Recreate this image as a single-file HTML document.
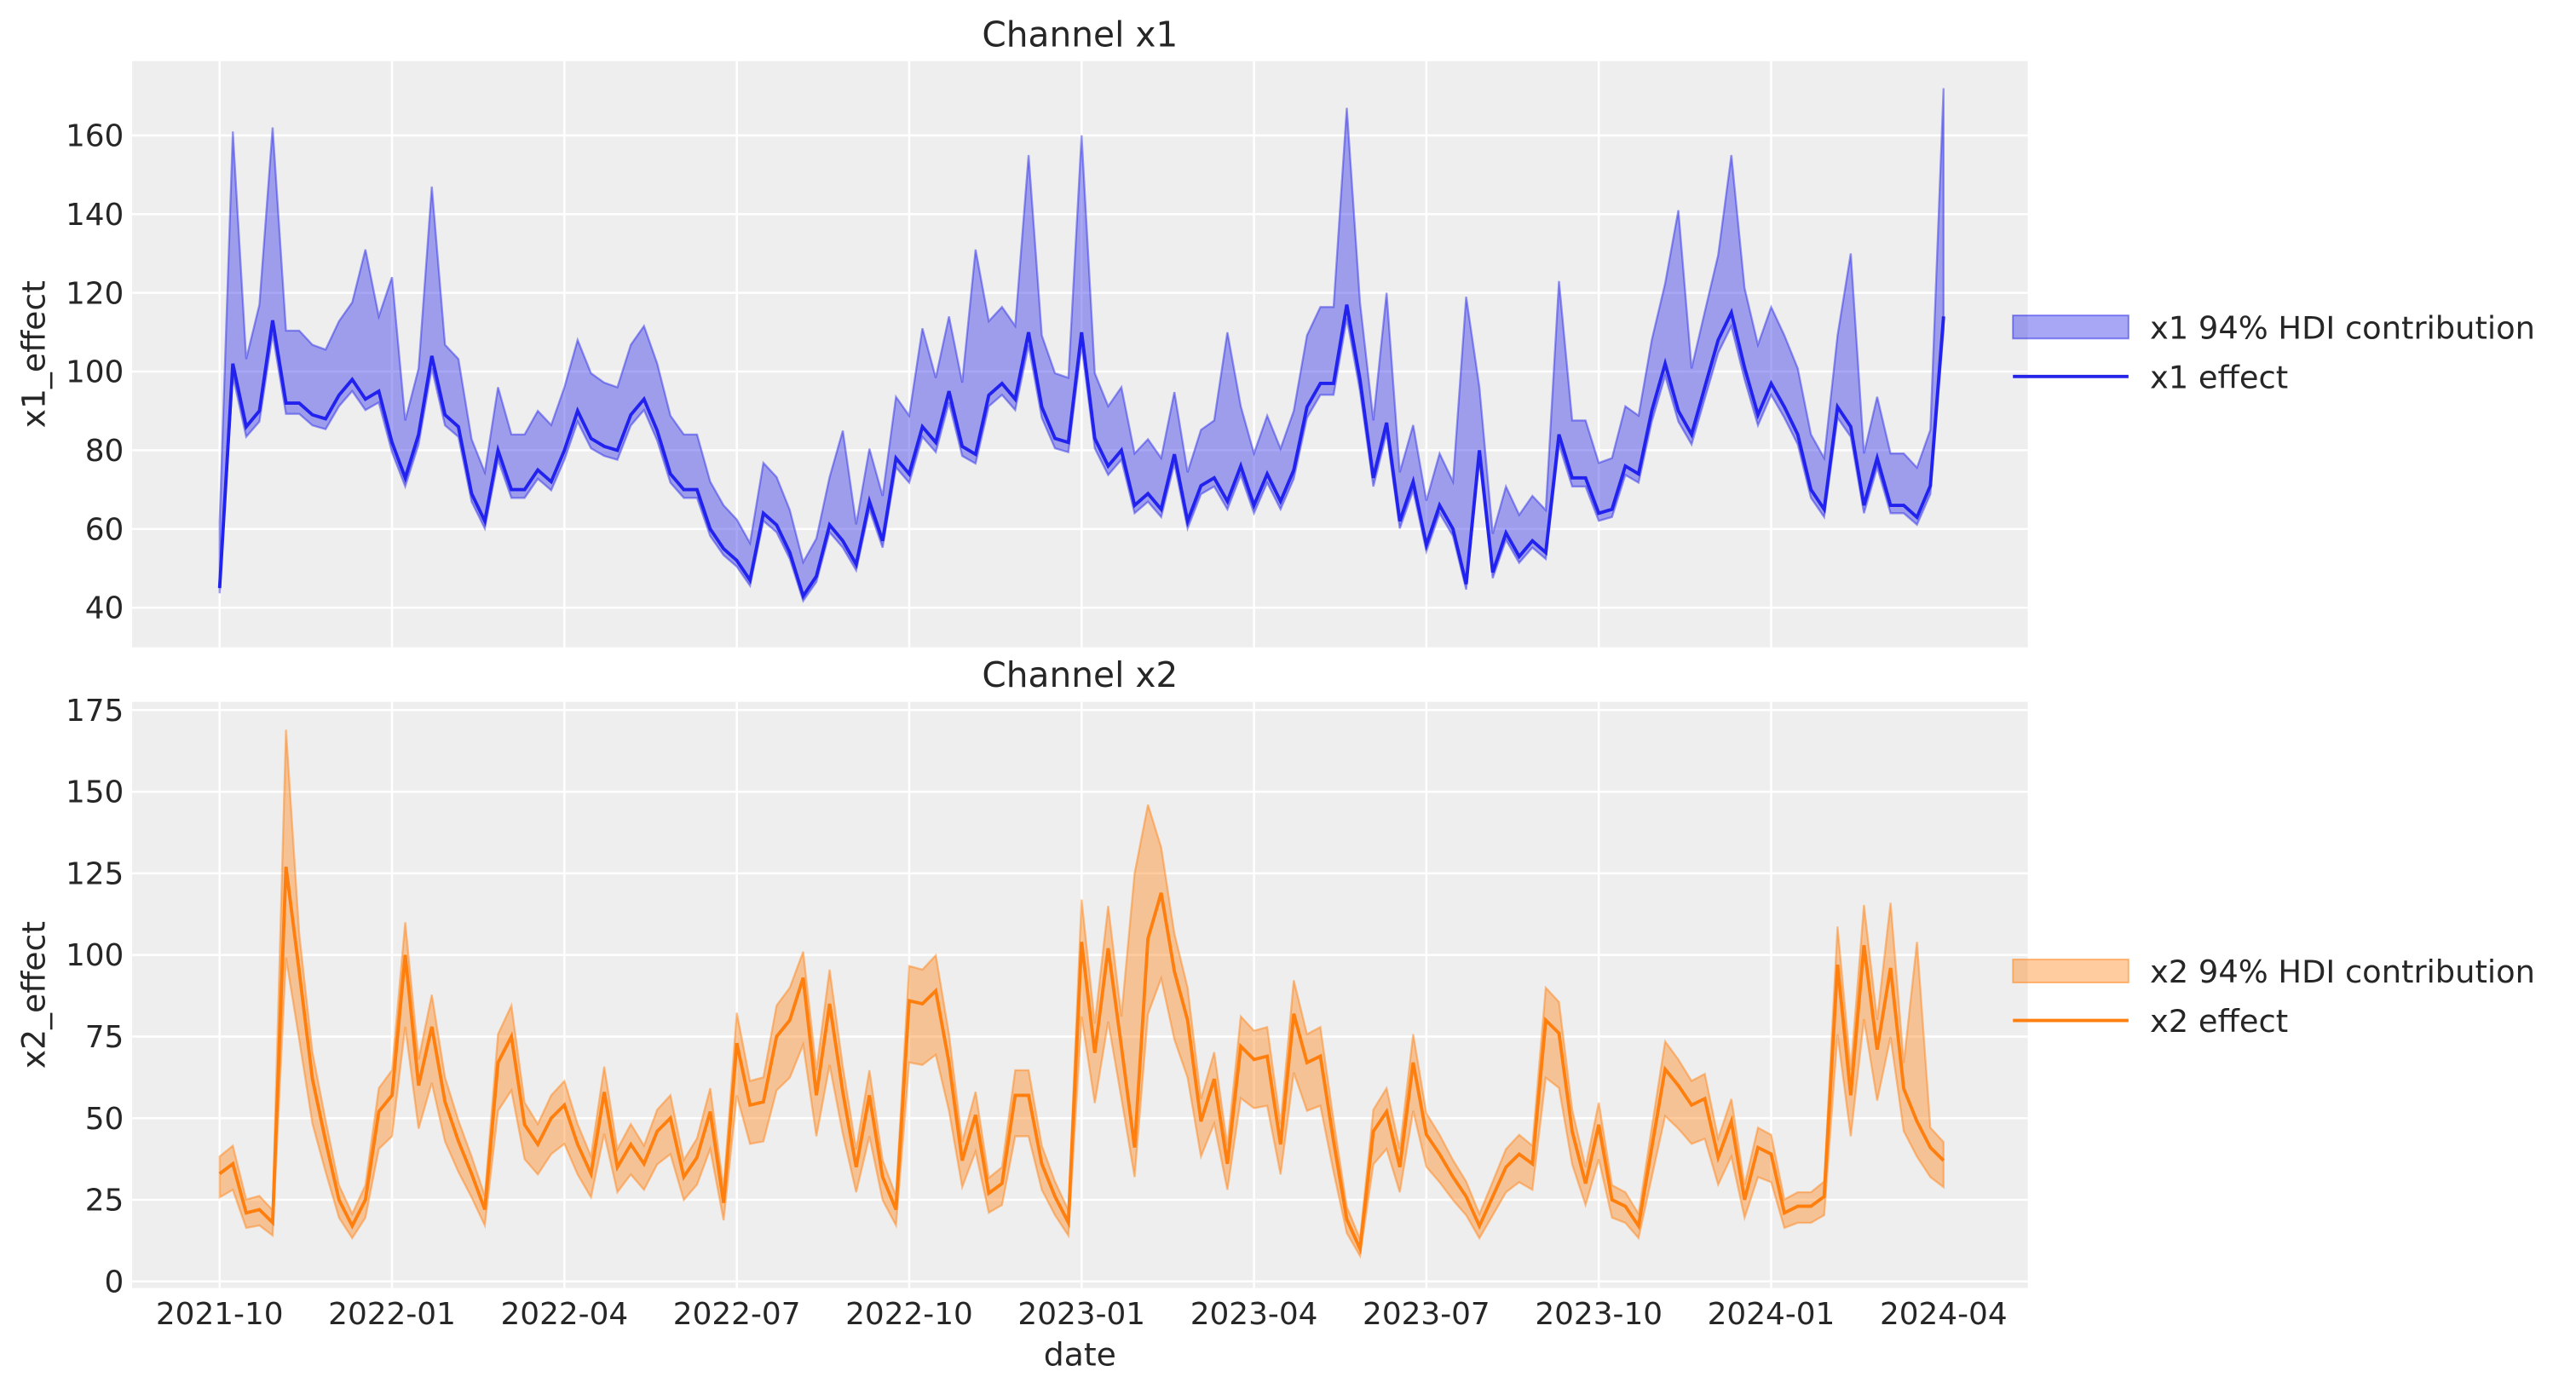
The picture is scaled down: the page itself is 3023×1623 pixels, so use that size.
<!DOCTYPE html>
<html><head><meta charset="utf-8"><style>html,body{margin:0;padding:0;background:#fff}svg{display:block}text{font-family:"DejaVu Sans","Liberation Sans",sans-serif;fill:#262626}</style></head>
<body>
<svg id="s" width="3023" height="1623" viewBox="0 0 1560 837.5" xmlns="http://www.w3.org/2000/svg"></svg>
<script>
const s=document.getElementById('s');let h='';
const L=80,R=1228;
function panel(top,bot,yv,ypx,ticks,title,ylab){
  h+=`<rect x="${L}" y="${top}" width="${R-L}" height="${bot-top}" fill="#eeeeee"/>`;
  for(let i=0;i<10;i++){const x=133+i*104.4;h+=`<line x1="${x}" y1="${top}" x2="${x}" y2="${bot}" stroke="#fff" stroke-width="1.3"/>`;}
  ticks.forEach(t=>{const y=ypx(t);h+=`<line x1="${L}" y1="${y}" x2="${R}" y2="${y}" stroke="#fff" stroke-width="1.3"/><text x="${L-5}" y="${y+6.5}" font-size="18.5" text-anchor="end">${t}</text>`;});
  h+=`<text x="654" y="${top-9}" font-size="21" text-anchor="middle">${title}</text>`;
  h+=`<text transform="translate(27,${(top+bot)/2}) rotate(-90)" font-size="19.5" text-anchor="middle">${ylab}</text>`;
}
const y1=v=>82+(160-v)*(286/120), y2=v=>776-v*(346/175);
panel(37,392,0,y1,[40,60,80,100,120,140,160],'Channel x1','x1_effect');
panel(425,780,0,y2,[0,25,50,75,100,125,150,175],'Channel x2','x2_effect');
const e1=[45,102,86,90,113,92,92,89,88,94,98,93,95,82,73,84,104,89,86,69,62,80,70,70,75,72,80,90,83,81,80,89,93,85,74,70,70,60,55,52,47,64,61,54,43,48,61,57,51,67,57,78,74,86,82,95,81,79,94,97,93,110,91,83,82,110,83,76,80,66,69,65,79,62,71,73,67,76,66,74,67,75,91,97,97,117,98,73,87,62,72,56,66,60,46,80,49,59,53,57,54,84,73,73,64,65,76,74,90,102,90,84,96,108,115,101,89,97,91,84,70,65,91,86,66,78,66,66,63,71,114];
const o1={1:161,4:162,16:147,61:155,65:160,85:167,88:120,94:119,101:123,110:141,114:155,123:130,130:172,0:62,3:117,11:131,13:124,47:85,53:111,57:131,76:110};
const e2=[33,36,21,22,18,127,95,62,43,25,17,25,52,57,100,60,78,55,43,33,22,67,75,48,42,50,54,42,33,58,35,42,36,46,50,32,38,52,24,73,54,55,75,80,93,57,85,58,35,57,32,22,86,85,89,67,37,51,27,30,57,57,36,26,18,104,70,102,72,41,105,119,95,80,49,62,36,72,68,69,42,82,67,69,43,19,10,46,52,35,67,45,39,32,26,17,26,35,39,36,80,76,46,30,48,25,23,17,41,65,60,54,56,38,49,25,41,39,21,23,23,26,97,57,103,71,96,59,49,41,37];
const o2={5:169,70:146,69:125,126:116,128:104,14:110,44:101,67:115,65:117};
function xs(n,i){return 133+i*(1044/(n-1));}
function draw(e,ov,yf,up,lo,fill,line){
  const n=e.length;let U=[],D=[],M=[];
  e.forEach((v,i)=>{const x=xs(n,i);let u=ov[i]!==undefined?ov[i]:up(v);U.push(x.toFixed(1)+','+yf(u).toFixed(1));D.push(x.toFixed(1)+','+yf(lo(v)).toFixed(1));M.push(x.toFixed(1)+','+yf(v).toFixed(1));});
  h+=`<polygon points="${U.join(' ')} ${D.reverse().join(' ')}" fill="${fill}" fill-opacity="0.4" stroke="${fill}" stroke-opacity="0.45" stroke-width="1.2"/>`;
  h+=`<polyline points="${M.join(' ')}" fill="none" stroke="${line}" stroke-width="2"/>`;
}
draw(e1,o1,y1,v=>v*1.2,v=>v*0.97,'#2424e8','#2222ee');
draw(e2,o2,y2,v=>v*1.1+2,v=>v*0.78,'#ff7f0e','#ff7f0e');
const lab=['2021-10','2022-01','2022-04','2022-07','2022-10','2023-01','2023-04','2023-07','2023-10','2024-01','2024-04'];
lab.forEach((t,i)=>{h+=`<text x="${133+i*104.4}" y="802" font-size="18.5" text-anchor="middle">${t}</text>`;});
h+=`<text x="654" y="827" font-size="19.5" text-anchor="middle">date</text>`;
function leg(y,c,t1,t2){h+=`<rect x="1219" y="${y-7}" width="70" height="14" fill="${c}" fill-opacity="0.4" stroke="${c}" stroke-opacity="0.5"/><text x="1302" y="${y+7}" font-size="19">${t1}</text><line x1="1219" y1="${y+30}" x2="1289" y2="${y+30}" stroke="${c}" stroke-width="2"/><text x="1302" y="${y+37}" font-size="19">${t2}</text>`;}
leg(198,'#2424e8','x1 94% HDI contribution','x1 effect');
leg(588,'#ff7f0e','x2 94% HDI contribution','x2 effect');
s.innerHTML=h;
</script>
</body></html>
